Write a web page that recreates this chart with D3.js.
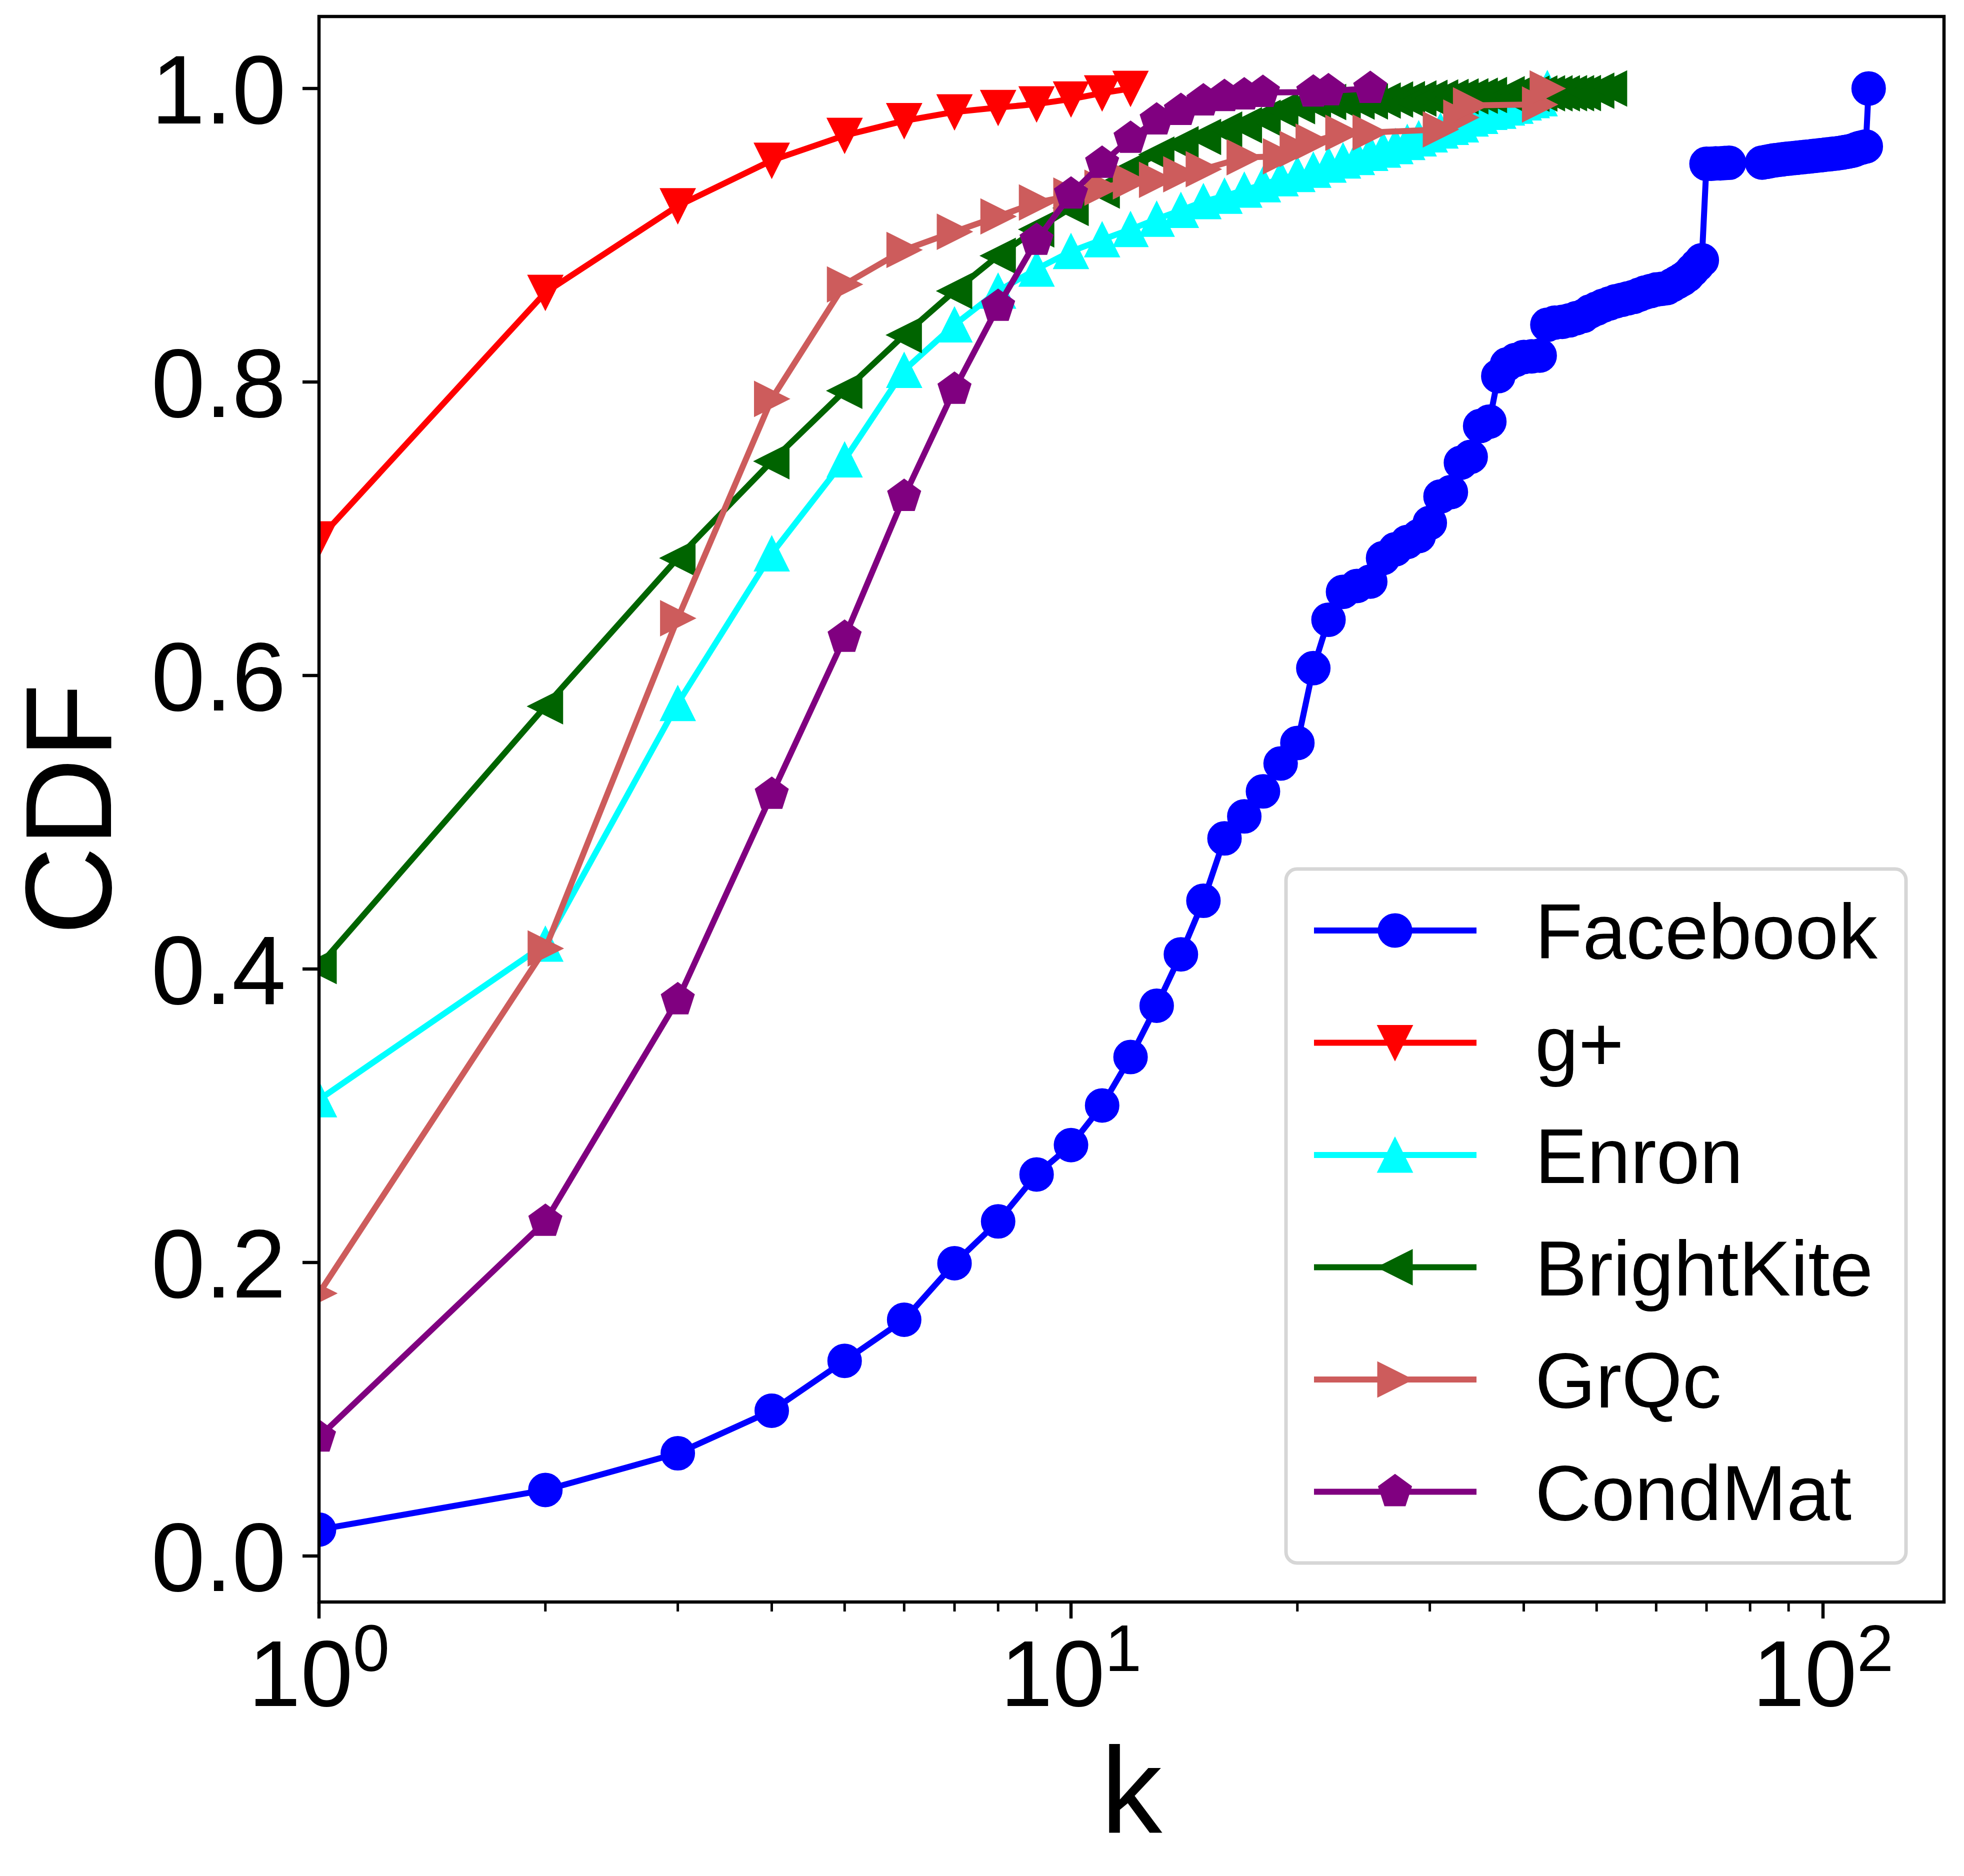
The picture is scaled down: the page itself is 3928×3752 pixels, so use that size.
<!DOCTYPE html>
<html><head><meta charset="utf-8">
<script src="https://cdn.jsdelivr.net/npm/d3@7/dist/d3.min.js"></script>
<style>html,body{margin:0;padding:0;background:#fff}</style>
</head><body>
<svg id="chart" width="3928" height="3752"></svg>
<script>
// ---------- data ----------
const seriesNames = ["Facebook", "g+", "Enron", "BrightKite", "GrQc", "CondMat"];

const facebookK = [1,2,3,4,5,6,7,8,9,10,11,12,13,14,15,16,17,18,19,20,21,22,23,24,25,26,27,28,29,30,
  31,32,33,34,35,36,37,38,39,40,41,42,43,44,45,46,47,48,49,50,51,52,53,54,55,56,57,58,59,60,
  61,62,63,64,65,66,67,68,69,70,71,72,73,74,75,
  83,84,85,86,87,88,89,90,91,92,93,94,95,96,97,98,99,100,101,102,103,104,105,106,107,108,109,110,111,112,113,114,115];
const facebookCDF = [0.018,0.045,0.070,0.099,0.133,0.161,0.1995,0.228,0.260,0.280,0.307,0.340,0.375,0.410,0.4465,0.489,0.504,0.521,0.540,0.554,
  0.605,0.638,0.657,0.661,0.664,0.680,0.686,0.691,0.695,0.704,
  0.722,0.725,0.745,0.749,0.770,0.773,0.804,0.812,0.815,0.817,0.8175,0.818,0.839,0.8405,0.841,0.842,0.8435,0.845,0.848,0.850,
  0.852,0.8535,0.855,0.856,0.857,0.858,0.8595,0.861,0.862,0.863,0.8635,0.864,0.866,0.868,0.870,0.8725,0.876,0.8795,0.883,
  0.9487,0.9487,0.949,0.949,0.9492,0.9494,
  0.9495,0.950,0.9505,0.951,0.9513,0.9516,0.952,0.9522,0.9525,0.9527,0.953,0.9532,0.9535,0.9537,0.954,0.9542,0.9545,0.9547,
  0.955,0.9552,0.9555,0.9557,0.956,0.9563,0.9567,0.957,0.9575,0.958,0.9589,0.9595,0.960,0.9605,1.0];

const gplusK = [1,2,3,4,5,6,7,8,9,10,11,12];
const gplusCDF = [0.693,0.861,0.920,0.951,0.968,0.978,0.984,0.987,0.9894,0.9928,0.9969,1.0];

const enronK = [1,2,3,4,5,6,7,8,9,10,11,12,13,14,15,16,17,18,19,20,21,22,23,24,25,26,27,28,29,30,31,32,33,34,35,36,37,38,39,40,41,42,43];
const enronCDF = [0.311,0.417,0.581,0.683,0.747,0.808,0.839,0.862,0.877,0.889,0.897,0.904,0.911,0.917,0.923,0.9267,0.9308,0.9345,0.9386,0.9415,
  0.9444,0.9479,0.9507,0.9531,0.9559,0.9581,0.9605,0.9633,0.9658,0.9685,0.9711,0.9736,0.9753,0.9793,0.9811,0.9838,0.9846,0.9868,0.988,0.9903,
  0.9918,0.9931,1.0];

const brightK = [1,2,3,4,5,6,7,8,9,10,11,12,13,14,15,16,17,18,19,20,21,22,23,24,25,26,27,28,29,30,31,32,33,34,35,36,38,39,40,41,42,43,44,45,46,47,48,50,52];
const brightCDF = [0.402,0.579,0.680,0.746,0.794,0.832,0.862,0.886,0.904,0.9186,0.9305,0.945,0.955,0.962,0.967,0.972,0.975,0.980,0.985,0.988,
  0.9905,0.9908,0.991,0.9911,0.9912,0.9918,0.9925,0.9927,0.9932,0.9936,0.9939,0.9942,0.9946,0.9947,0.9951,0.9956,
  0.9961,0.9963,0.9964,0.9965,0.9966,0.9967,0.9967,0.9967,0.9968,0.9968,0.9969,0.9985,1.0];

const grqcK = [1,2,3,4,5,6,7,8,9,10,11,12,13,14,15,17,19,20,21,23,25,31,33,34,42,43];
const grqcCDF = [0.179,0.414,0.639,0.7885,0.8665,0.890,0.9024,0.9128,0.9223,0.927,0.9324,0.9367,0.9378,0.9415,0.945,
  0.9531,0.9538,0.9588,0.9638,0.9698,0.9700,0.9721,0.9802,0.9885,0.9891,1.0];

const condK = [1,2,3,4,5,6,7,8,9,10,11,12,13,14,15,16,17,18,21,22,25];
const condCDF = [0.081,0.228,0.379,0.519,0.626,0.722,0.795,0.8515,0.8965,0.928,0.949,0.966,0.9785,0.985,0.9915,0.9945,0.9956,0.9973,0.9975,0.9984,1.0];

const yTickValues = [0.0, 0.2, 0.4, 0.6, 0.8, 1.0];
const xTickExponents = [0, 1, 2];

// ---------- styles ----------
const seriesData = [
  {name: seriesNames[0], k: facebookK, v: facebookCDF, color: "#0000ff", marker: "circle"},
  {name: seriesNames[1], k: gplusK,    v: gplusCDF,    color: "#ff0000", marker: "tridown"},
  {name: seriesNames[2], k: enronK,    v: enronCDF,    color: "#00ffff", marker: "triup"},
  {name: seriesNames[3], k: brightK,   v: brightCDF,   color: "#006400", marker: "trileft"},
  {name: seriesNames[4], k: grqcK,     v: grqcCDF,     color: "#cd5c5c", marker: "triright"},
  {name: seriesNames[5], k: condK,     v: condCDF,     color: "#800080", marker: "pentagon"}
];

const FONT = "'Liberation Sans', Arial, Helvetica, sans-serif";
const L = 638, R = 3888, T = 33, B = 3204;
const LW = 12, MS = 35, MEW = 3;

const svg = d3.select("#chart");
svg.append("rect").attr("width", 3928).attr("height", 3752).attr("fill", "#fff");

const x = d3.scaleLog().domain([1, Math.pow(10, (R - L) / 1504)]).range([L, R]);
const y = d3.scaleLinear().domain([-(B - 3112) / 2935, 1 + (177 - T) / 2935]).range([B, T]);

function markerPath(type, s) {
  if (type === "circle") {
    return `M${s},0A${s},${s} 0 1,1 ${-s},0A${s},${s} 0 1,1 ${s},0Z`;
  }
  if (type === "tridown") return `M0,${s}L${-s},${-s}L${s},${-s}Z`;
  if (type === "triup") return `M0,${-s}L${-s},${s}L${s},${s}Z`;
  if (type === "trileft") return `M${-s},0L${s},${-s}L${s},${s}Z`;
  if (type === "triright") return `M${s},0L${-s},${-s}L${-s},${s}Z`;
  if (type === "pentagon") {
    const pts = d3.range(5).map(i => {
      const a = (-90 + 72 * i) * Math.PI / 180;
      return [s * Math.cos(a), s * Math.sin(a)];
    });
    return "M" + pts.map(p => p[0].toFixed(2) + "," + p[1].toFixed(2)).join("L") + "Z";
  }
}
function markerSize(type) {
  if (type === "circle") return MS - 2;
  return MS - 1;
}

// ---------- plot ----------
svg.append("clipPath").attr("id", "clip").append("rect")
  .attr("x", L).attr("y", T).attr("width", R - L).attr("height", B - T);

const plot = svg.append("g").attr("clip-path", "url(#clip)");
const line = d3.line().x(d => x(d[0])).y(d => y(d[1]));

seriesData.forEach(s => {
  const pts = s.k.map((k, i) => [k, s.v[i]]);
  const g = plot.append("g");
  g.append("path").datum(pts).attr("d", line)
    .attr("fill", "none").attr("stroke", s.color).attr("stroke-width", LW)
    .attr("stroke-linejoin", "round").attr("stroke-linecap", "butt");
  g.selectAll("path.m").data(pts).enter().append("path").attr("class", "m")
    .attr("d", markerPath(s.marker, markerSize(s.marker)))
    .attr("transform", d => `translate(${x(d[0])},${y(d[1])})`)
    .attr("fill", s.color).attr("stroke", s.color).attr("stroke-width", MEW)
    .attr("stroke-linejoin", "miter");
});

// ---------- axes ----------
const axes = svg.append("g");
yTickValues.forEach(v => {
  axes.append("line").attr("x1", L - 33).attr("x2", L).attr("y1", y(v)).attr("y2", y(v))
    .attr("stroke", "#000").attr("stroke-width", 6.5);
  axes.append("text").attr("x", L - 66).attr("y", y(v)).attr("dy", "0.36em")
    .attr("text-anchor", "end").attr("font-family", FONT).attr("font-size", 194)
    .text(d3.format(".1f")(v));
});
const xMax = x.domain()[1];
xTickExponents.forEach(e => {
  const v = Math.pow(10, e);
  axes.append("line").attr("x1", x(v)).attr("x2", x(v)).attr("y1", B).attr("y2", B + 33)
    .attr("stroke", "#000").attr("stroke-width", 6.5);
  const t = axes.append("text").attr("x", x(v)).attr("y", 3412)
    .attr("text-anchor", "middle").attr("font-family", FONT).attr("font-size", 188);
  t.append("tspan").text("10");
  t.append("tspan").attr("font-size", 132).attr("dy", -70).text(String(e));
  for (let m = 2; m <= 9; m++) {
    const mv = m * v;
    if (mv > xMax) break;
    axes.append("line").attr("x1", x(mv)).attr("x2", x(mv)).attr("y1", B).attr("y2", B + 19)
      .attr("stroke", "#000").attr("stroke-width", 5);
  }
});
axes.append("rect").attr("x", L).attr("y", T).attr("width", R - L).attr("height", B - T)
  .attr("fill", "none").attr("stroke", "#000").attr("stroke-width", 6.5);

svg.append("text").attr("x", (L + R) / 2).attr("y", 3666).attr("text-anchor", "middle")
  .attr("font-family", FONT).attr("font-size", 245).text("k");
svg.append("text").attr("transform", `translate(222,${(T + B) / 2}) rotate(-90)`)
  .attr("text-anchor", "middle").attr("font-family", FONT).attr("font-size", 245).text("CDF");

// ---------- legend ----------
const lg = svg.append("g");
lg.append("rect").attr("x", 2572).attr("y", 1738).attr("width", 1240).attr("height", 1388)
  .attr("rx", 22).attr("ry", 22).attr("fill", "#fff").attr("fill-opacity", 0.8)
  .attr("stroke", "#d6d6d6").attr("stroke-width", 7);
seriesData.forEach((s, i) => {
  const cy = 1861 + i * 224.5;
  lg.append("line").attr("x1", 2628).attr("x2", 2953).attr("y1", cy).attr("y2", cy)
    .attr("stroke", s.color).attr("stroke-width", LW);
  lg.append("path").attr("d", markerPath(s.marker, markerSize(s.marker)))
    .attr("transform", `translate(2790,${cy})`)
    .attr("fill", s.color).attr("stroke", s.color).attr("stroke-width", MEW);
  lg.append("text").attr("x", 3070).attr("y", cy).attr("dy", "0.36em")
    .attr("font-family", FONT).attr("font-size", 156).text(s.name);
});
</script>
</body></html>
